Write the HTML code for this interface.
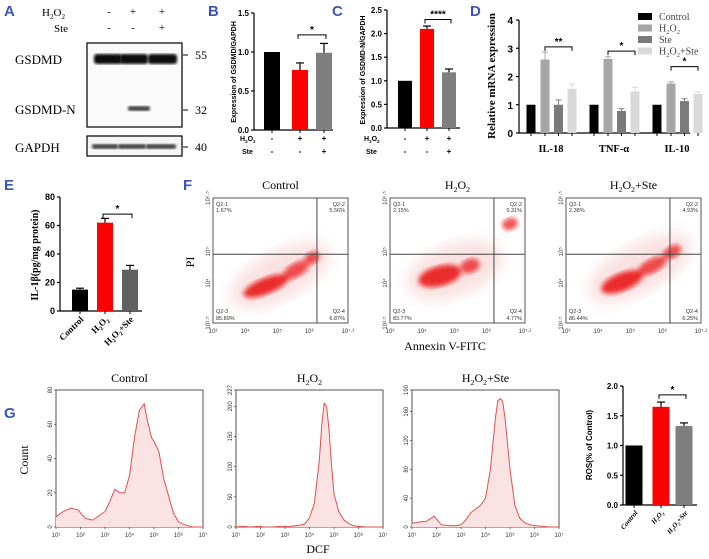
<!DOCTYPE html>
<html><head><meta charset="utf-8"><style>
html,body{margin:0;padding:0;background:#fff}
svg{display:block}
.t{font-family:"Liberation Serif",serif}
.s{font-family:"Liberation Sans",sans-serif}
.L{font-family:"Liberation Sans",sans-serif;font-weight:bold;font-size:15px;fill:#3a55b4}
</style></head><body>
<svg id="fig" width="709" height="559" viewBox="0 0 709 559" xmlns="http://www.w3.org/2000/svg">
<defs>
<filter id="blur2"><feGaussianBlur stdDeviation="2.5"/></filter>
<filter id="blur4"><feGaussianBlur stdDeviation="7"/></filter>
<filter id="bb"><feGaussianBlur stdDeviation="1.3"/></filter>
</defs>
<g id="root"></g>
</svg>
<script>
// ---- data ----
const bCats=["Control","H2O2","H2O2+Ste"];
const bVals=[1.0,0.77,0.99];
const bErr=[0,0.09,0.12];
const cVals=[1.0,2.1,1.18];
const cErr=[0,0.06,0.07];
const dGenes=["IL-18","TNF-α","IL-10"];
const dSeries=["Control","H2O2","Ste","H2O2+Ste"];
const dVals=[[1,2.6,1.0,1.56],[1,2.62,0.78,1.47],[1,1.75,1.13,1.38]];
const dErr=[[0,0.27,0.17,0.17],[0,0.08,0.08,0.15],[0,0.06,0.08,0.08]];
const eVals=[15,62,29];
const eErr=[1,3,3];
const hVals=[1.0,1.65,1.33];
const hErr=[0,0.08,0.05];
const fQ1=["1.67%","2.15%","2.38%"],fQ2=["5.56%","9.31%","4.93%"],fQ3=["85.89%","83.77%","86.44%"],fQ4=["6.87%","4.77%","6.25%"];
const gLog=[1,1.3,1.6,1.9,2.2,2.5,2.8,3.0,3.2,3.4,3.6,3.8,4.0,4.2,4.4,4.5,4.6,4.7,4.8,4.9,5.0,5.2,5.4,5.6,5.8,6.0,6.3,6.6,7];
const gCtrl=[6,9,11,10,5,4,7,9,15,22,20,20,30,52,68,70,72,64,58,52,50,44,28,18,8,3,1,0,0];
const gH2=[0,1,0,1,0,0,1,1,1,2,3,5,15,40,110,170,205,200,160,100,55,25,12,6,2,1,0,0,0];
const gHS=[5,7,8,15,3,2,2,3,10,20,25,30,40,80,150,175,178,175,150,115,80,30,12,6,3,2,1,0,0];
const gMax=[80,227,190];

const NS="http://www.w3.org/2000/svg";
const root=document.getElementById('root');
function el(tag,attrs,parent,text){const e=document.createElementNS(NS,tag);for(const k in attrs)e.setAttribute(k,attrs[k]);if(text!==undefined)e.textContent=text;(parent||root).appendChild(e);return e;}
function txt(x,y,s,size,cls,anchor,name,parent,extra){const e=el('text',Object.assign({x:x,y:y,'font-size':size,class:cls,'text-anchor':anchor||'start'},extra||{}),parent,s);return e;}
function h2o2(x,y,size,anchor,suffix,cls,name,parent,extra){const e=el('text',Object.assign({x:x,y:y,'font-size':size,class:cls||'t','text-anchor':anchor||'start'},extra||{}),parent);
 e.appendChild(document.createTextNode('H'));el('tspan',{'font-size':size*0.65,dy:size*0.25},e,'2');el('tspan',{dy:-size*0.25,'font-size':size},e,'O');el('tspan',{'font-size':size*0.65,dy:size*0.25},e,'2');if(suffix)el('tspan',{dy:-size*0.25,'font-size':size},e,suffix);return e;}
function line(x1,y1,x2,y2,w,c,parent){return el('line',{x1,y1,x2,y2,stroke:c||'#000','stroke-width':w||1},parent);}

[["A",4,16],["B",208,16],["C",332,16],["D",470,16],["E",4,190],["F",183,190],["G",4,418],["H",421,418]].forEach(l=>{txt(l[1],l[2],l[0],15,'L','start','panel-label-'+l[0].toLowerCase());});

// ---- Panel A ----
const gA=el('g',{});
h2o2(42,16,11,'start','', 't','h2o2-row-label',gA);
txt(54,32,'Ste',11,'t','start','ste-row-label',gA);
[['-','-'],['+','-'],['+','+']].forEach((r,i)=>{const x=[109,133,162][i];txt(x,15,r[0],11,'t','middle','h2o2-sign',gA);txt(x,31,r[1],11,'t','middle','ste-sign',gA);});
el('rect',{x:87,y:43,width:95,height:84,fill:'#fafafa',stroke:'#111','stroke-width':1.3},gA);
el('rect',{x:87,y:136,width:95,height:20,fill:'#f4f4f4',stroke:'#111','stroke-width':1.3},gA);
[[94,122],[120,148],[148,177]].forEach(b=>{el('rect',{x:b[0],y:54,width:b[1]-b[0],height:10,rx:3,fill:'#111',filter:'url(#bb)'},gA);});
el('rect',{x:128,y:106,width:22,height:5,rx:2,fill:'#444',filter:'url(#bb)'},gA);
[[92,118],[118,146],[146,176]].forEach(b=>{el('rect',{x:b[0],y:144,width:b[1]-b[0],height:5,rx:2,fill:'#444',filter:'url(#bb)'},gA);});
txt(15,64,'GSDMD',13,'t','start','gsdmd-label',gA);
txt(15,114,'GSDMD-N',13,'t','start','gsdmd-n-label',gA);
txt(15,152,'GAPDH',13,'t','start','gapdh-label',gA);
[['55',59],['32',114],['40',151]].forEach(m=>{line(183,m[1]-4,188,m[1]-4,1,'#000',gA);txt(195,m[1],m[0],12,'t','start','mw-'+m[0],gA);});

function barChart(o){
 const g=el('g',{});
 const y=v=>o.y0-(v/o.max)*(o.y0-o.yTop);
 line(o.ax,o.yTop,o.ax,o.y0,1.2,'#000',g);
 line(o.ax,o.y0,o.axEnd,o.y0,1.2,'#000',g);
 o.ticks.forEach(t=>{line(o.ax-3,y(t),o.ax,y(t),1.2,'#000',g);txt(o.ax-5,y(t)+3,o.tickFmt(t),o.tickSize||8,'s','end','y-tick-label',g,{'font-weight':'bold'});});
 o.vals.forEach((v,i)=>{const cx=o.cx[i];const r=el('rect',{x:cx-o.bw/2,y:y(v),width:o.bw,height:o.y0-y(v),fill:o.colors[i]},g);
  line(cx,o.y0,cx,o.y0+3,1,'#000',g);
  if(o.err[i]>0){line(cx,y(v),cx,y(v+o.err[i]),1.2,'#000',g);line(cx-4,y(v+o.err[i]),cx+4,y(v+o.err[i]),1.2,'#000',g);}
 });
 if(o.sig){const [a,b,yy,s]=o.sig;const ys=y(yy);el('path',{d:`M${o.cx[a]-2},${ys+4}V${ys}H${o.cx[b]+2}V${ys+4}`,fill:'none',stroke:'#000','stroke-width':1},g);txt((o.cx[a]+o.cx[b])/2,ys-2,s,10,'s','middle','significance-marker',g,{'font-weight':'bold'});}
 return {g,y};
}
function signRows(g,x0,cx,y1,y2){h2o2(x0,y1,7,'start','','s','h2o2-row-label',g,{'font-weight':'bold'});txt(x0+2,y2,'Ste',7,'s','start','ste-row-label',g,{'font-weight':'bold'});[['-','-'],['+','-'],['+','+']].forEach((r,i)=>{txt(cx[i],y1,r[0],8,'s','middle','h2o2-sign',g,{'font-weight':'bold'});txt(cx[i],y2,r[1],8,'s','middle','ste-sign',g,{'font-weight':'bold'});});}

const B=barChart({name:'chart-gsdmd',ax:254,axEnd:333,y0:130,yTop:13,max:1.5,ticks:[0,0.5,1.0,1.5],tickFmt:t=>t.toFixed(1),cats:bCats,vals:bVals,err:bErr,cx:[272,300,324],bw:16,colors:['#000','#f00','#7f7f7f'],sig:[1,2,1.22,'*']});
signRows(B.g,240,[272,300,324],141,154);
txt(236,72,'Expression of GSDMD/GAPDH',7,'s','middle','y-axis-title',B.g,{'font-weight':'bold',transform:'rotate(-90 236 72)'});
const C=barChart({name:'chart-gsdmd-n',ax:387,axEnd:460,y0:128,yTop:10,max:2.5,ticks:[0,0.5,1.0,1.5,2.0,2.5],tickFmt:t=>t.toFixed(1),cats:bCats,vals:cVals,err:cErr,cx:[405,427,449],bw:14,colors:['#000','#f00','#7f7f7f'],sig:[1,2,2.3,'****']});
signRows(C.g,364,[405,427,449],141,154);
txt(365,70,'Expression of GSDMD-N/GAPDH',7,'s','middle','y-axis-title',C.g,{'font-weight':'bold',transform:'rotate(-90 365 70)'});
(function(){
 const g=el('g',{});
 const y0=133,yT=20,max=4,ax=519;const y=v=>y0-v/max*(y0-yT);
 const cols=['#000','#a6a6a6','#7a7a7a','#d9d9d9'];
 line(ax,yT,ax,y0,1.2,'#000',g);line(ax,y0,690,y0,1.2,'#000',g);
 [0,1,2,3,4].forEach(t=>{line(ax-3,y(t),ax,y(t),1.2,'#000',g);txt(ax-6,y(t)+4,String(t),10,'s','end','y-tick-label',g,{'font-weight':'bold'});});
 const gx=[531,594,657],off=[0,14,27.5,41];
 dVals.forEach((row,gi)=>{row.forEach((v,si)=>{const cx=gx[gi]+off[si];const r=el('rect',{x:cx-4.5,y:y(v),width:9,height:y0-y(v),fill:cols[si]},g);
  line(cx,y0,cx,y0+3,1,'#000',g);
  if(dErr[gi][si]>0){line(cx,y(v),cx,y(v+dErr[gi][si]),1,cols[si],g);line(cx-3,y(v+dErr[gi][si]),cx+3,y(v+dErr[gi][si]),1,cols[si],g);}});
  txt(gx[gi]+20,152,dGenes[gi],10.5,'t','middle','x-category-label',g,{'font-weight':'bold'});});
 const sig=[[0,1,3,3.05,'**'],[1,1,3,2.9,'*'],[2,1,3,2.35,'*']];
 sig.forEach(s=>{const xa=gx[s[0]]+off[s[1]],xb=gx[s[0]]+off[s[2]],ys=y(s[3]);el('path',{d:`M${xa},${ys+4}V${ys}H${xb}V${ys+4}`,fill:'none',stroke:'#000','stroke-width':1},g);txt((xa+xb)/2,ys-2,s[4],10,'s','middle','significance-marker',g,{'font-weight':'bold'});});
 txt(495,76,'Relative mRNA expression',11,'t','middle','y-axis-title',g,{'font-weight':'bold',transform:'rotate(-90 495 76)'});
 dSeries.forEach((s,i)=>{const yy=13+i*11.5;const r=el('rect',{x:638,y:yy,width:14,height:7,fill:cols[i]},g);
  if(s==='H2O2')h2o2(659,yy+7,10,'start','','t','legend-entry',g,{fill:'#444'});else if(s==='H2O2+Ste')h2o2(659,yy+7,10,'start','+Ste','t','legend-entry',g,{fill:'#444'});else txt(659,yy+7,s,10,'t','start','legend-entry',g,{fill:'#444'});});
})();
const E=barChart({name:'chart-il1b',ax:60,axEnd:142,y0:311,yTop:197,max:80,ticks:[0,20,40,60,80],tickFmt:t=>String(t),tickSize:9,cats:bCats,vals:eVals,err:eErr,cx:[80,105,130],bw:16,colors:['#000','#f00','#606060'],sig:[1,2,68,'*']});
txt(38,255,'IL-1β(pg/mg protein)',10,'t','middle','y-axis-title',E.g,{'font-weight':'bold',transform:'rotate(-90 38 255)'});
txt(84,320,'Control',9,'t','end','x-category-label',E.g,{'font-weight':'bold',transform:'rotate(-45 84 320)'});
h2o2(109,320,9,'end','','t','x-category-label',E.g,{'font-weight':'bold',transform:'rotate(-45 109 320)'});
h2o2(134,320,9,'end','+Ste','t','x-category-label',E.g,{'font-weight':'bold',transform:'rotate(-45 134 320)'});

// ---- F ----
const fX=[213,390,566];
const fClouds=[[[266,286,24,8,-22],[296,270,14,7,-30],[312,258,8,6,-35]],[[440,276,22,10,-15],[470,266,10,7,-20],[510,224,8,6,-20]],[[622,282,22,9,-22],[652,266,16,7,-28],[672,252,10,6,-30]]];
const fHalo=[[280,275,55,24,-28],[455,270,50,26,-20],[640,268,58,24,-28]];
fX.forEach((x0,p)=>{
 const g=el('g',{});
 const w=135,y0=198,h=125;
 el('rect',{x:x0,y:y0,width:w,height:h,fill:'#fff',stroke:'#555','stroke-width':1},g);
 const hl=fHalo[p];
 el('ellipse',{cx:hl[0],cy:hl[1],rx:hl[2],ry:hl[3],fill:'#f5c8c8',opacity:0.55,filter:'url(#blur4)',transform:`rotate(${hl[4]} ${hl[0]} ${hl[1]})`},g);
 fClouds[p].forEach((c,i)=>{el('ellipse',{cx:c[0],cy:c[1],rx:c[2],ry:c[3],fill:'#e81010',opacity:i==0?0.85:0.7,filter:'url(#blur2)',transform:`rotate(${c[4]} ${c[0]} ${c[1]})`},g);});
 const gx=x0+w*0.77,gy=y0+h*0.45;line(gx,y0,gx,y0+h,1,'#444',g);line(x0,gy,x0+w,gy,1,'#444',g);
 txt(x0+3,y0+8,'Q2-1',5.5,'s','start','quadrant-label',g,{fill:'#333'});txt(x0+3,y0+14,fQ1[p],5.5,'s','start','quadrant-value',g,{fill:'#333'});
 txt(x0+w-3,y0+8,'Q2-2',5.5,'s','end','quadrant-label',g,{fill:'#333'});txt(x0+w-3,y0+14,fQ2[p],5.5,'s','end','quadrant-value',g,{fill:'#333'});
 txt(x0+3,y0+h-10,'Q2-3',5.5,'s','start','quadrant-label',g,{fill:'#333'});txt(x0+3,y0+h-3,fQ3[p],5.5,'s','start','quadrant-value',g,{fill:'#333'});
 txt(x0+w-3,y0+h-10,'Q2-4',5.5,'s','end','quadrant-label',g,{fill:'#333'});txt(x0+w-3,y0+h-3,fQ4[p],5.5,'s','end','quadrant-value',g,{fill:'#333'});
 ['10³','10⁴','10⁵','10⁶','10⁷·²'].forEach((s,i)=>txt(x0+i*w/4.2+(i==4?w/4.2*0.2:0),y0+h+10,s,6,'s','middle','x-tick-label',g,{fill:'#333'}));
 [['10⁶·⁵',0],['10⁵',0.43],['10⁴',0.68],['10²·⁵',1]].forEach(t=>txt(x0-3,y0+h*t[1],t[0],6,'s','middle','y-tick-label',g,{fill:'#333',transform:`rotate(-90 ${x0-3} ${y0+h*t[1]})`}));
 if(p==0)txt(x0+w/2,189,'Control',12,'t','middle','plot-title',g);else if(p==1)h2o2(x0+w/2,189,12,'middle','','t','plot-title',g);else h2o2(x0+w/2,189,12,'middle','+Ste','t','plot-title',g);
});
txt(194,262,'PI',12,'t','middle','y-axis-title',null,{transform:'rotate(-90 194 262)'});
txt(445,350,'Annexin V-FITC',12,'t','middle','x-axis-title');

// ---- G ----
const gX=[56,236,412],gW=147,gY0=390,gH=137;
const gData=[gCtrl,gH2,gHS];
const gTicks=[[0,20,40,60,80],[0,50,100,150,200,227],[0,40,80,120,160,190]];
gX.forEach((x0,p)=>{
 const g=el('g',{});
 el('rect',{x:x0,y:gY0,width:gW,height:gH,fill:'#fff',stroke:'#555','stroke-width':1},g);
 const xs=v=>x0+(v-1)/6*gW, ys=v=>gY0+gH-v/gMax[p]*gH;
 let d='M'+xs(gLog[0])+','+ys(gData[p][0]);gLog.forEach((l,i)=>{d+=' L'+xs(l).toFixed(1)+','+ys(gData[p][i]).toFixed(1);});
 el('path',{d:d+` L${xs(7)},${gY0+gH} L${xs(1)},${gY0+gH}Z`,fill:'#fbe3e3',stroke:'none'},g);
 const c=el('path',{d:d,fill:'none',stroke:'#d9534f','stroke-width':1},g);
 for(let i=1;i<=7;i++){line(xs(i),gY0+gH,xs(i),gY0+gH+2,0.8,'#555',g);txt(xs(i),gY0+gH+10,'10'+['','¹','²','³','⁴','⁵','⁶','⁷'][i],6,'s','middle','x-tick-label',g,{fill:'#333'});}
 gTicks[p].forEach(t=>{line(x0-2,ys(t),x0,ys(t),0.8,'#555',g);txt(x0-4,ys(t),String(t),6,'s','middle','y-tick-label',g,{fill:'#333',transform:`rotate(-90 ${x0-4} ${ys(t)})`});});
 if(p==0)txt(x0+gW/2,382,'Control',12,'t','middle','plot-title',g);else if(p==1)h2o2(x0+gW/2,382,12,'middle','','t','plot-title',g);else h2o2(x0+gW/2,382,12,'middle','+Ste','t','plot-title',g);
});
txt(28,460,'Count',12,'t','middle','y-axis-title',null,{transform:'rotate(-90 28 460)'});
txt(318,553,'DCF',12,'t','middle','x-axis-title');

// ---- H ----
const H=barChart({name:'chart-ros',ax:623,axEnd:697,y0:505,yTop:386,max:2.0,ticks:[0,0.5,1.0,1.5,2.0],tickFmt:t=>t.toFixed(1),tickSize:8,cats:bCats,vals:hVals,err:hErr,cx:[634,661,684],bw:17,colors:['#000','#f00','#7f7f7f'],sig:[1,2,1.85,'*']});
txt(592,445,'ROS(% of Control)',8,'s','middle','y-axis-title',H.g,{'font-weight':'bold',transform:'rotate(-90 592 445)'});
txt(638,513,'Control',7,'t','end','x-category-label',H.g,{'font-weight':'bold','font-style':'italic',transform:'rotate(-50 638 513)'});
h2o2(664,513,7,'end','','t','x-category-label',H.g,{'font-weight':'bold','font-style':'italic',transform:'rotate(-50 664 513)'});
h2o2(688,513,7,'end','+Ste','t','x-category-label',H.g,{'font-weight':'bold','font-style':'italic',transform:'rotate(-50 688 513)'});
</script>
</body></html>
